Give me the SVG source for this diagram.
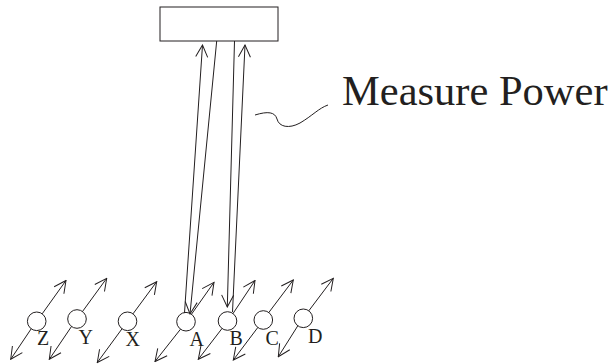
<svg xmlns="http://www.w3.org/2000/svg" width="611" height="364" viewBox="0 0 611 364">
<style>
.ln{stroke:#231f20;stroke-width:1;fill:none}
.arr{marker-end:url(#ah)}
.lbl{font-family:"Liberation Serif","Times New Roman",serif;font-size:20px;fill:#231f20}
.big{font-family:"Liberation Serif","Times New Roman",serif;font-size:42.5px;fill:#231f20}
</style>
<defs>
<marker id="ah" markerUnits="userSpaceOnUse" markerWidth="14" markerHeight="14" viewBox="-1 -7 14 14" refX="12" refY="0" orient="auto">
<path d="M0,-6 L12,0 L0,6" fill="none" stroke="#231f20" stroke-width="1"/>
</marker>
</defs>
<rect width="611" height="364" fill="#fff"/>
<g id="meter">
<rect x="160" y="7" width="118" height="34" class="ln"/>
</g>
<g id="connectors">
<line x1="184.5" y1="313" x2="202.5" y2="45" class="ln arr"/>
<line x1="216.7" y1="41" x2="190" y2="314" class="ln arr"/>
<line x1="234.5" y1="41" x2="227.3" y2="307" class="ln arr"/>
<line x1="232.5" y1="312" x2="245" y2="45" class="ln arr"/>
</g>
<g id="measure-label">
<path d="M255 115 C268 111,275 112,277 119 C279 127,289 129,300 123 C312 116,319 108,328 105" class="ln"/>
<text x="342" y="105" class="big">Measure Power</text>
</g>
<g id="dipole-Z">
<circle cx="36.7" cy="321.3" r="9.3" class="ln"/>
<line x1="42.2" y1="313.8" x2="66" y2="280.5" class="ln arr"/>
<line x1="31.2" y1="328.8" x2="10.7" y2="359.3" class="ln arr"/>
<text x="37" y="345" class="lbl">Z</text>
</g>
<g id="dipole-Y">
<circle cx="77" cy="319" r="9.3" class="ln"/>
<line x1="82.5" y1="311.5" x2="106.7" y2="278.3" class="ln arr"/>
<line x1="71.5" y1="326.5" x2="49.3" y2="359.3" class="ln arr"/>
<text x="78.5" y="344" class="lbl">Y</text>
</g>
<g id="dipole-X">
<circle cx="127.5" cy="321.3" r="9.3" class="ln"/>
<line x1="133" y1="313.8" x2="156.7" y2="281.7" class="ln arr"/>
<line x1="122" y1="328.8" x2="97.3" y2="362.5" class="ln arr"/>
<text x="125.5" y="346" class="lbl">X</text>
</g>
<g id="dipole-A">
<circle cx="186" cy="321.7" r="9.3" class="ln"/>
<line x1="191.5" y1="314.2" x2="214" y2="282.3" class="ln arr"/>
<line x1="180.5" y1="329.2" x2="155" y2="361.5" class="ln arr"/>
<text x="189.5" y="346" class="lbl">A</text>
</g>
<g id="dipole-B">
<circle cx="227.5" cy="321" r="9.3" class="ln"/>
<line x1="233" y1="313.5" x2="255" y2="280.5" class="ln arr"/>
<line x1="222" y1="328.5" x2="198.3" y2="359.3" class="ln arr"/>
<text x="229.5" y="345" class="lbl">B</text>
</g>
<g id="dipole-C">
<circle cx="263.3" cy="320" r="9.3" class="ln"/>
<line x1="268.8" y1="312.5" x2="293.3" y2="280" class="ln arr"/>
<line x1="257.8" y1="327.5" x2="233.3" y2="360" class="ln arr"/>
<text x="265.5" y="345" class="lbl">C</text>
</g>
<g id="dipole-D">
<circle cx="303.3" cy="318.3" r="9.3" class="ln"/>
<line x1="308.8" y1="310.8" x2="333.3" y2="278.3" class="ln arr"/>
<line x1="297.8" y1="325.8" x2="278.3" y2="356.7" class="ln arr"/>
<text x="308" y="343" class="lbl">D</text>
</g>
</svg>
